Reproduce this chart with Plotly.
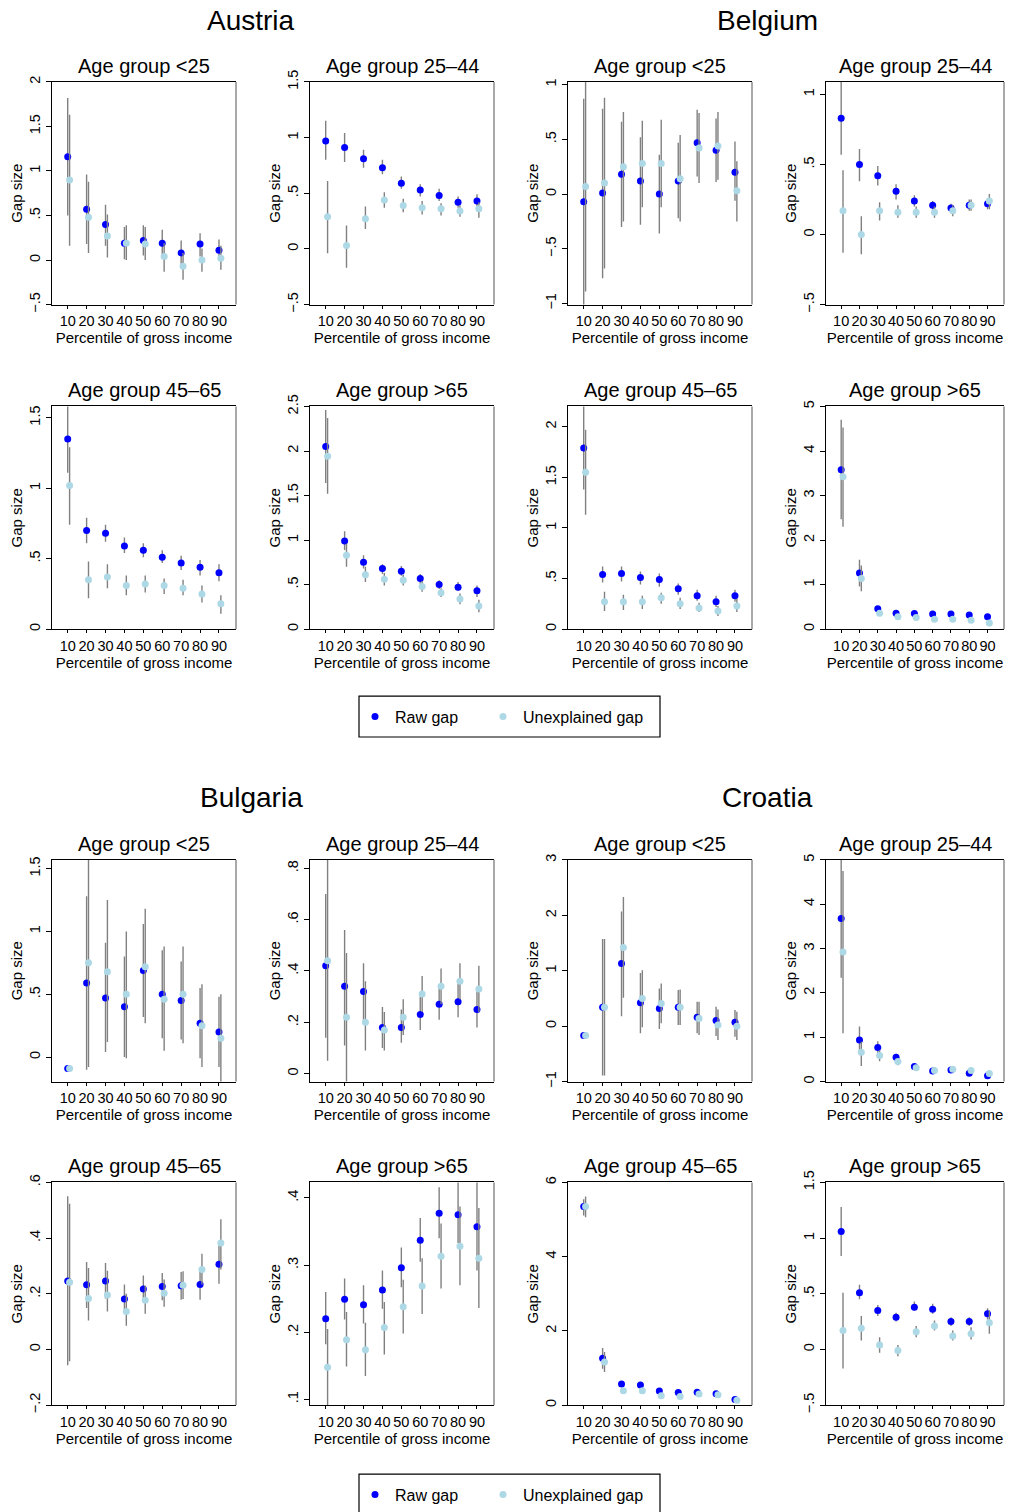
import plotly.graph_objects as go

# ---------------- data ----------------
PCT = [10, 20, 30, 40, 50, 60, 70, 80, 90]
PCT_TEXT = ["10", "20", "30", "40", "50", "60", "70", "80", "90"]

COUNTRIES = ["Austria", "Belgium", "Bulgaria", "Croatia"]
AGE_GROUPS = ["Age group <25", "Age group 25\u201344", "Age group 45\u201365", "Age group >65"]
SERIES = ["Raw gap", "Unexplained gap"]

# Austria
AT_U25_RAW = [1.16, 0.57, 0.40, 0.19, 0.22, 0.19, 0.08, 0.18, 0.11]
AT_U25_RAW_LO = [0.50, 0.18, 0.16, 0.01, 0.05, 0.06, -0.07, 0.04, 0.00]
AT_U25_RAW_HI = [1.82, 0.96, 0.62, 0.37, 0.39, 0.34, 0.22, 0.30, 0.23]
AT_U25_UNX = [0.90, 0.48, 0.27, 0.19, 0.18, 0.04, -0.07, 0.00, 0.02]
AT_U25_UNX_LO = [0.16, 0.08, 0.03, 0.00, 0.00, -0.13, -0.22, -0.13, -0.11]
AT_U25_UNX_HI = [1.63, 0.88, 0.51, 0.39, 0.37, 0.19, 0.08, 0.13, 0.16]

AT_2544_RAW = [0.97, 0.91, 0.81, 0.73, 0.59, 0.53, 0.48, 0.42, 0.43]
AT_2544_RAW_LO = [0.80, 0.78, 0.73, 0.67, 0.54, 0.47, 0.43, 0.37, 0.38]
AT_2544_RAW_HI = [1.15, 1.04, 0.89, 0.80, 0.65, 0.58, 0.54, 0.47, 0.49]
AT_2544_UNX = [0.29, 0.03, 0.27, 0.44, 0.39, 0.37, 0.36, 0.34, 0.36]
AT_2544_UNX_LO = [-0.04, -0.17, 0.18, 0.37, 0.33, 0.31, 0.30, 0.29, 0.28]
AT_2544_UNX_HI = [0.61, 0.21, 0.38, 0.51, 0.45, 0.43, 0.41, 0.39, 0.42]

AT_4565_RAW = [1.35, 0.70, 0.68, 0.59, 0.56, 0.51, 0.47, 0.44, 0.40]
AT_4565_RAW_LO = [1.11, 0.61, 0.62, 0.54, 0.51, 0.47, 0.42, 0.38, 0.34]
AT_4565_RAW_HI = [1.60, 0.79, 0.74, 0.65, 0.61, 0.56, 0.52, 0.49, 0.46]
AT_4565_UNX = [1.02, 0.35, 0.37, 0.31, 0.32, 0.31, 0.29, 0.25, 0.18]
AT_4565_UNX_LO = [0.74, 0.22, 0.29, 0.24, 0.26, 0.25, 0.24, 0.19, 0.11]
AT_4565_UNX_HI = [1.29, 0.48, 0.46, 0.38, 0.38, 0.36, 0.35, 0.31, 0.24]

AT_65_RAW = [2.05, 0.99, 0.75, 0.68, 0.65, 0.57, 0.50, 0.47, 0.43]
AT_65_RAW_LO = [1.64, 0.89, 0.68, 0.62, 0.60, 0.51, 0.45, 0.43, 0.36]
AT_65_RAW_HI = [2.46, 1.10, 0.83, 0.73, 0.71, 0.62, 0.55, 0.53, 0.49]
AT_65_UNX = [1.94, 0.83, 0.61, 0.56, 0.55, 0.48, 0.41, 0.34, 0.26]
AT_65_UNX_LO = [1.52, 0.70, 0.53, 0.49, 0.49, 0.42, 0.36, 0.28, 0.19]
AT_65_UNX_HI = [2.37, 0.96, 0.70, 0.63, 0.61, 0.54, 0.46, 0.40, 0.33]

# Belgium
BE_U25_RAW = [-0.07, 0.01, 0.18, 0.12, 0.00, 0.12, 0.47, 0.40, 0.20]
BE_U25_RAW_LO = [-1.10, -0.77, -0.30, -0.28, -0.36, -0.22, 0.16, 0.11, -0.06]
BE_U25_RAW_HI = [0.87, 0.78, 0.66, 0.52, 0.36, 0.47, 0.77, 0.69, 0.48]
BE_U25_UNX = [0.07, 0.10, 0.25, 0.28, 0.28, 0.14, 0.42, 0.44, 0.03]
BE_U25_UNX_LO = [-0.89, -0.68, -0.25, -0.12, -0.12, -0.25, 0.10, 0.13, -0.25]
BE_U25_UNX_HI = [1.10, 0.88, 0.75, 0.67, 0.68, 0.54, 0.74, 0.75, 0.30]

BE_2544_RAW = [0.83, 0.50, 0.42, 0.31, 0.24, 0.21, 0.19, 0.21, 0.22]
BE_2544_RAW_LO = [0.57, 0.38, 0.35, 0.25, 0.20, 0.17, 0.16, 0.17, 0.18]
BE_2544_RAW_HI = [1.15, 0.61, 0.49, 0.36, 0.28, 0.24, 0.22, 0.25, 0.26]
BE_2544_UNX = [0.17, 0.00, 0.17, 0.16, 0.16, 0.16, 0.17, 0.21, 0.24]
BE_2544_UNX_LO = [-0.13, -0.14, 0.10, 0.12, 0.12, 0.12, 0.13, 0.17, 0.18]
BE_2544_UNX_HI = [0.46, 0.13, 0.23, 0.21, 0.20, 0.20, 0.21, 0.25, 0.29]

BE_4565_RAW = [1.79, 0.54, 0.55, 0.51, 0.49, 0.40, 0.33, 0.27, 0.33]
BE_4565_RAW_LO = [1.38, 0.46, 0.47, 0.44, 0.42, 0.34, 0.28, 0.22, 0.27]
BE_4565_RAW_HI = [2.25, 0.62, 0.62, 0.57, 0.55, 0.45, 0.39, 0.33, 0.39]
BE_4565_UNX = [1.55, 0.27, 0.27, 0.27, 0.31, 0.25, 0.21, 0.18, 0.23]
BE_4565_UNX_LO = [1.13, 0.18, 0.19, 0.20, 0.25, 0.20, 0.17, 0.13, 0.17]
BE_4565_UNX_HI = [1.97, 0.37, 0.34, 0.33, 0.36, 0.31, 0.26, 0.23, 0.30]

BE_65_RAW = [3.58, 1.26, 0.46, 0.36, 0.35, 0.34, 0.34, 0.32, 0.28]
BE_65_RAW_LO = [2.47, 0.96, 0.39, 0.31, 0.30, 0.29, 0.28, 0.27, 0.23]
BE_65_RAW_HI = [4.70, 1.56, 0.52, 0.41, 0.40, 0.40, 0.39, 0.37, 0.34]
BE_65_UNX = [3.42, 1.14, 0.36, 0.28, 0.26, 0.22, 0.22, 0.20, 0.14]
BE_65_UNX_LO = [2.30, 0.85, 0.30, 0.23, 0.21, 0.17, 0.16, 0.15, 0.09]
BE_65_UNX_HI = [4.53, 1.43, 0.42, 0.34, 0.31, 0.28, 0.27, 0.25, 0.19]

# Bulgaria
BG_U25_RAW = [-0.09, 0.59, 0.47, 0.40, 0.69, 0.50, 0.45, 0.27, 0.20]
BG_U25_RAW_LO = [-0.09, -0.10, 0.04, 0.00, 0.32, 0.15, 0.14, -0.01, -0.08]
BG_U25_RAW_HI = [-0.09, 1.28, 0.91, 0.80, 1.06, 0.85, 0.76, 0.55, 0.48]
BG_U25_UNX = [-0.09, 0.75, 0.68, 0.50, 0.72, 0.46, 0.50, 0.25, 0.15]
BG_U25_UNX_LO = [-0.09, -0.08, 0.12, -0.01, 0.27, 0.05, 0.11, -0.08, -0.25]
BG_U25_UNX_HI = [-0.09, 1.65, 1.25, 1.00, 1.18, 0.88, 0.88, 0.58, 0.50]

BG_2544_RAW = [0.42, 0.34, 0.32, 0.18, 0.18, 0.23, 0.27, 0.28, 0.25]
BG_2544_RAW_LO = [0.14, 0.11, 0.21, 0.10, 0.12, 0.17, 0.21, 0.22, 0.18]
BG_2544_RAW_HI = [0.70, 0.56, 0.43, 0.26, 0.25, 0.30, 0.34, 0.35, 0.32]
BG_2544_UNX = [0.44, 0.22, 0.20, 0.17, 0.22, 0.31, 0.34, 0.36, 0.33]
BG_2544_UNX_LO = [0.05, -0.05, 0.09, 0.09, 0.15, 0.24, 0.27, 0.29, 0.24]
BG_2544_UNX_HI = [0.90, 0.47, 0.36, 0.24, 0.29, 0.38, 0.41, 0.43, 0.42]

BG_4565_RAW = [0.246, 0.232, 0.246, 0.181, 0.217, 0.226, 0.229, 0.233, 0.306]
BG_4565_RAW_LO = [-0.057, 0.149, 0.183, 0.130, 0.171, 0.177, 0.179, 0.179, 0.236]
BG_4565_RAW_HI = [0.550, 0.314, 0.311, 0.233, 0.266, 0.275, 0.278, 0.289, 0.373]
BG_4565_UNX = [0.241, 0.183, 0.196, 0.136, 0.177, 0.202, 0.231, 0.287, 0.382]
BG_4565_UNX_LO = [-0.042, 0.104, 0.136, 0.085, 0.128, 0.153, 0.181, 0.233, 0.287]
BG_4565_UNX_HI = [0.523, 0.293, 0.283, 0.200, 0.229, 0.251, 0.281, 0.344, 0.468]

BG_65_RAW = [0.220, 0.249, 0.241, 0.263, 0.296, 0.337, 0.377, 0.375, 0.357]
BG_65_RAW_LO = [0.182, 0.219, 0.213, 0.235, 0.267, 0.305, 0.340, 0.333, 0.292]
BG_65_RAW_HI = [0.260, 0.280, 0.270, 0.292, 0.326, 0.370, 0.416, 0.440, 0.440]
BG_65_UNX = [0.148, 0.189, 0.174, 0.207, 0.238, 0.269, 0.313, 0.328, 0.310]
BG_65_UNX_LO = [0.080, 0.149, 0.135, 0.167, 0.198, 0.227, 0.265, 0.270, 0.236]
BG_65_UNX_HI = [0.205, 0.230, 0.214, 0.245, 0.278, 0.310, 0.362, 0.387, 0.385]

# Croatia
HR_U25_RAW = [-0.17, 0.34, 1.13, 0.42, 0.32, 0.34, 0.16, 0.10, 0.07]
HR_U25_RAW_LO = [-0.17, -0.89, 0.18, -0.13, -0.05, 0.02, -0.13, -0.18, -0.19]
HR_U25_RAW_HI = [-0.17, 1.57, 2.07, 0.96, 0.68, 0.65, 0.44, 0.35, 0.29]
HR_U25_UNX = [-0.17, 0.34, 1.42, 0.50, 0.41, 0.34, 0.14, 0.02, 0.00]
HR_U25_UNX_LO = [-0.17, -0.89, 0.51, -0.02, 0.05, 0.02, -0.16, -0.25, -0.25]
HR_U25_UNX_HI = [-0.17, 1.57, 2.33, 1.01, 0.77, 0.66, 0.44, 0.30, 0.26]

HR_2544_RAW = [3.68, 0.94, 0.77, 0.55, 0.34, 0.24, 0.26, 0.19, 0.13]
HR_2544_RAW_LO = [2.34, 0.63, 0.63, 0.46, 0.29, 0.19, 0.21, 0.14, 0.07]
HR_2544_RAW_HI = [5.20, 1.24, 0.91, 0.63, 0.39, 0.28, 0.31, 0.25, 0.18]
HR_2544_UNX = [2.92, 0.66, 0.59, 0.45, 0.31, 0.25, 0.28, 0.25, 0.18]
HR_2544_UNX_LO = [1.09, 0.35, 0.46, 0.37, 0.27, 0.20, 0.22, 0.19, 0.13]
HR_2544_UNX_HI = [4.75, 0.90, 0.70, 0.52, 0.36, 0.31, 0.33, 0.30, 0.23]

HR_4565_RAW = [5.35, 1.26, 0.57, 0.54, 0.38, 0.34, 0.35, 0.31, 0.15]
HR_4565_RAW_LO = [5.11, 0.98, 0.53, 0.49, 0.34, 0.30, 0.31, 0.28, 0.12]
HR_4565_RAW_HI = [5.55, 1.54, 0.62, 0.58, 0.41, 0.38, 0.39, 0.35, 0.19]
HR_4565_UNX = [5.35, 1.16, 0.39, 0.39, 0.25, 0.23, 0.30, 0.28, 0.13]
HR_4565_UNX_LO = [5.06, 0.89, 0.34, 0.34, 0.22, 0.20, 0.26, 0.24, 0.11]
HR_4565_UNX_HI = [5.62, 1.43, 0.43, 0.43, 0.29, 0.27, 0.33, 0.31, 0.16]

HR_65_RAW = [1.06, 0.51, 0.35, 0.29, 0.38, 0.36, 0.25, 0.25, 0.32]
HR_65_RAW_LO = [0.84, 0.45, 0.30, 0.25, 0.35, 0.32, 0.21, 0.21, 0.27]
HR_65_RAW_HI = [1.28, 0.58, 0.40, 0.33, 0.43, 0.41, 0.29, 0.29, 0.37]
HR_65_UNX = [0.17, 0.19, 0.04, -0.01, 0.16, 0.21, 0.12, 0.14, 0.24]
HR_65_UNX_LO = [-0.17, 0.08, -0.03, -0.06, 0.11, 0.17, 0.08, 0.09, 0.14]
HR_65_UNX_HI = [0.51, 0.30, 0.11, 0.04, 0.21, 0.26, 0.17, 0.20, 0.35]

# y-axis tick values per panel
AT_U25_TICKS = [-0.5, 0, 0.5, 1, 1.5, 2]
AT_2544_TICKS = [-0.5, 0, 0.5, 1, 1.5]
AT_4565_TICKS = [0, 0.5, 1, 1.5]
AT_65_TICKS = [0, 0.5, 1, 1.5, 2, 2.5]
BE_U25_TICKS = [-1, -0.5, 0, 0.5, 1]
BE_2544_TICKS = [-0.5, 0, 0.5, 1]
BE_4565_TICKS = [0, 0.5, 1, 1.5, 2]
BE_65_TICKS = [0, 1, 2, 3, 4, 5]
BG_U25_TICKS = [0, 0.5, 1, 1.5]
BG_2544_TICKS = [0, 0.2, 0.4, 0.6, 0.8]
BG_4565_TICKS = [-0.2, 0, 0.2, 0.4, 0.6]
BG_65_TICKS = [0.1, 0.2, 0.3, 0.4]
HR_U25_TICKS = [-1, 0, 1, 2, 3]
HR_2544_TICKS = [0, 1, 2, 3, 4, 5]
HR_4565_TICKS = [0, 2, 4, 6]
HR_65_TICKS = [-0.5, 0, 0.5, 1, 1.5]

# ---------------- layout geometry ----------------
W, H = 1011, 1512
COLS = [(52, 236), (310, 494), (568, 752), (826, 1004)]
ROWS = [(82, 305), (407, 630), (861, 1083), (1184, 1407)]
FONT = "Liberation Sans, Arial, Helvetica, sans-serif"
RAW_COLOR = "#0000FF"
UNX_COLOR = "#ADD8E6"
BAR_COLOR = "#808080"


def fx(px):
    return px / W


def fy(py):
    return 1 - py / H


def fmt(v):
    a = abs(v)
    if abs(a - round(a)) < 1e-9:
        s = str(int(round(a)))
    else:
        s = ("%g" % a)
        if s.startswith("0"):
            s = s[1:]
    return ("\u2212" + s) if v < 0 else s


# (country index, row, col, age index, data..., y range, ticks)
PANELS = [
    (0, 0, 0, 0, AT_U25_RAW, AT_U25_RAW_LO, AT_U25_RAW_HI, AT_U25_UNX, AT_U25_UNX_LO, AT_U25_UNX_HI, [-0.5, 2.0], AT_U25_TICKS),
    (0, 0, 1, 1, AT_2544_RAW, AT_2544_RAW_LO, AT_2544_RAW_HI, AT_2544_UNX, AT_2544_UNX_LO, AT_2544_UNX_HI, [-0.5, 1.5], AT_2544_TICKS),
    (0, 1, 0, 2, AT_4565_RAW, AT_4565_RAW_LO, AT_4565_RAW_HI, AT_4565_UNX, AT_4565_UNX_LO, AT_4565_UNX_HI, [0, 1.58], AT_4565_TICKS),
    (0, 1, 1, 3, AT_65_RAW, AT_65_RAW_LO, AT_65_RAW_HI, AT_65_UNX, AT_65_UNX_LO, AT_65_UNX_HI, [0, 2.5], AT_65_TICKS),
    (1, 0, 2, 0, BE_U25_RAW, BE_U25_RAW_LO, BE_U25_RAW_HI, BE_U25_UNX, BE_U25_UNX_LO, BE_U25_UNX_HI, [-1.01, 1.025], BE_U25_TICKS),
    (1, 0, 3, 1, BE_2544_RAW, BE_2544_RAW_LO, BE_2544_RAW_HI, BE_2544_UNX, BE_2544_UNX_LO, BE_2544_UNX_HI, [-0.5, 1.09], BE_2544_TICKS),
    (1, 1, 2, 2, BE_4565_RAW, BE_4565_RAW_LO, BE_4565_RAW_HI, BE_4565_UNX, BE_4565_UNX_LO, BE_4565_UNX_HI, [0, 2.2], BE_4565_TICKS),
    (1, 1, 3, 3, BE_65_RAW, BE_65_RAW_LO, BE_65_RAW_HI, BE_65_UNX, BE_65_UNX_LO, BE_65_UNX_HI, [0, 5], BE_65_TICKS),
    (2, 2, 0, 0, BG_U25_RAW, BG_U25_RAW_LO, BG_U25_RAW_HI, BG_U25_UNX, BG_U25_UNX_LO, BG_U25_UNX_HI, [-0.195, 1.57], BG_U25_TICKS),
    (2, 2, 1, 1, BG_2544_RAW, BG_2544_RAW_LO, BG_2544_RAW_HI, BG_2544_UNX, BG_2544_UNX_LO, BG_2544_UNX_HI, [-0.031, 0.833], BG_2544_TICKS),
    (2, 3, 0, 2, BG_4565_RAW, BG_4565_RAW_LO, BG_4565_RAW_HI, BG_4565_UNX, BG_4565_UNX_LO, BG_4565_UNX_HI, [-0.2, 0.6], BG_4565_TICKS),
    (2, 3, 1, 3, BG_65_RAW, BG_65_RAW_LO, BG_65_RAW_HI, BG_65_UNX, BG_65_UNX_LO, BG_65_UNX_HI, [0.0915, 0.423], BG_65_TICKS),
    (3, 2, 2, 0, HR_U25_RAW, HR_U25_RAW_LO, HR_U25_RAW_HI, HR_U25_UNX, HR_U25_UNX_LO, HR_U25_UNX_HI, [-1, 3], HR_U25_TICKS),
    (3, 2, 3, 1, HR_2544_RAW, HR_2544_RAW_LO, HR_2544_RAW_HI, HR_2544_UNX, HR_2544_UNX_LO, HR_2544_UNX_HI, [0, 5], HR_2544_TICKS),
    (3, 3, 2, 2, HR_4565_RAW, HR_4565_RAW_LO, HR_4565_RAW_HI, HR_4565_UNX, HR_4565_UNX_LO, HR_4565_UNX_HI, [0, 6], HR_4565_TICKS),
    (3, 3, 3, 3, HR_65_RAW, HR_65_RAW_LO, HR_65_RAW_HI, HR_65_UNX, HR_65_UNX_LO, HR_65_UNX_HI, [-0.5, 1.5], HR_65_TICKS),
]

fig = go.Figure()
layout = dict(
    width=W, height=H,
    margin=dict(l=0, r=0, t=0, b=0),
    paper_bgcolor="white", plot_bgcolor="white",
    font=dict(family=FONT, color="black"),
    showlegend=True,
)
annotations = []
shapes = []

for i, p in enumerate(PANELS, start=1):
    ci, r, c, ai, raw, rlo, rhi, unx, ulo, uhi, yr, ticks = p
    xn = "x" if i == 1 else f"x{i}"
    yn = "y" if i == 1 else f"y{i}"
    xk = "xaxis" if i == 1 else f"xaxis{i}"
    yk = "yaxis" if i == 1 else f"yaxis{i}"
    top_block = ci in (0, 1)
    leg_raw = "legend" if top_block else "legend3"
    leg_unx = "legend2" if top_block else "legend4"
    show = (ci in (0, 2)) and ai == 0

    fig.add_trace(go.Scatter(
        x=PCT, y=raw, mode="markers", name=SERIES[0],
        marker=dict(color=RAW_COLOR, size=7),
        error_y=dict(type="data", symmetric=False,
                     array=[h - v for h, v in zip(rhi, raw)],
                     arrayminus=[v - l for v, l in zip(raw, rlo)],
                     width=0, thickness=1.4, color=BAR_COLOR),
        xaxis=xn, yaxis=yn, legend=leg_raw, legendgroup="raw" + leg_raw,
        showlegend=show, hoverinfo="skip"))
    fig.add_trace(go.Scatter(
        x=[v + 1 for v in PCT], y=unx, mode="markers", name=SERIES[1],
        marker=dict(color=UNX_COLOR, size=7),
        error_y=dict(type="data", symmetric=False,
                     array=[h - v for h, v in zip(uhi, unx)],
                     arrayminus=[v - l for v, l in zip(unx, ulo)],
                     width=0, thickness=1.4, color=BAR_COLOR),
        xaxis=xn, yaxis=yn, legend=leg_unx, legendgroup="unx" + leg_unx,
        showlegend=show, hoverinfo="skip"))

    x0, x1 = COLS[c]
    y0, y1 = ROWS[r]
    layout[xk] = dict(
        domain=[fx(x0), fx(x1)], anchor=yn, range=[1.7, 99],
        tickmode="array", tickvals=PCT, ticktext=PCT_TEXT,
        ticks="outside", ticklen=3, tickcolor="black", tickwidth=1,
        tickfont=dict(size=14.5, family=FONT, color="black"),
        showline=True, linecolor="black", linewidth=1, mirror=True,
        showgrid=False, zeroline=False, automargin=False,
        title=dict(text="Percentile of gross income", font=dict(size=15, family=FONT, color="black"), standoff=0),
    )
    layout[yk] = dict(
        domain=[fy(y1), fy(y0)], anchor=xn, range=yr,
        tickmode="array", tickvals=ticks, ticktext=[fmt(t) for t in ticks],
        tickangle=-90,
        ticks="outside", ticklen=5, tickcolor="black", tickwidth=1,
        tickfont=dict(size=14.5, family=FONT, color="black"),
        showline=True, linecolor="black", linewidth=1, mirror=False,
        showgrid=False, zeroline=False, automargin=False,
        title=dict(text="Gap size", font=dict(size=15, family=FONT, color="black"), standoff=0),
    )
    # grey right border of the plot region
    shapes.append(dict(type="line", xref=f"{xn} domain", yref=f"{yn} domain",
                       x0=1, x1=1, y0=0, y1=1, line=dict(color="#8c8c8c", width=1.5)))
    # panel title
    annotations.append(dict(text=AGE_GROUPS[ai], xref="paper", yref="paper",
                            x=fx((x0 + x1) / 2), y=fy(y0 - 16), xanchor="center", yanchor="middle",
                            showarrow=False, font=dict(size=20, family=FONT, color="black")))

# country titles
COUNTRY_POS = [(251, 21), (767, 21), (251, 799), (767, 799)]
for name, (cx, cy) in zip(COUNTRIES, COUNTRY_POS):
    annotations.append(dict(text=name, xref="paper", yref="paper", x=fx(cx), y=fy(cy),
                            xanchor="center", yanchor="middle", showarrow=False,
                            font=dict(size=28, family=FONT, color="black")))

# legend frames
for top in (697, 1476):
    shapes.append(dict(type="rect", xref="paper", yref="paper",
                       x0=fx(359), x1=fx(660), y0=fy(top), y1=fy(top + 41),
                       line=dict(color="black", width=1.2), fillcolor="rgba(0,0,0,0)"))

leg_common = dict(orientation="h", xanchor="left", yanchor="middle",
                  bgcolor="rgba(0,0,0,0)", borderwidth=0,
                  font=dict(size=16, family=FONT, color="black"),
                  itemwidth=30)
layout["legend"] = dict(x=fx(355), y=fy(717.5), **leg_common)
layout["legend2"] = dict(x=fx(483), y=fy(717.5), **leg_common)
layout["legend3"] = dict(x=fx(355), y=fy(1496.5), **leg_common)
layout["legend4"] = dict(x=fx(483), y=fy(1496.5), **leg_common)
layout["annotations"] = annotations
layout["shapes"] = shapes

fig.update_layout(**layout)
fig.write_html("out.html")
